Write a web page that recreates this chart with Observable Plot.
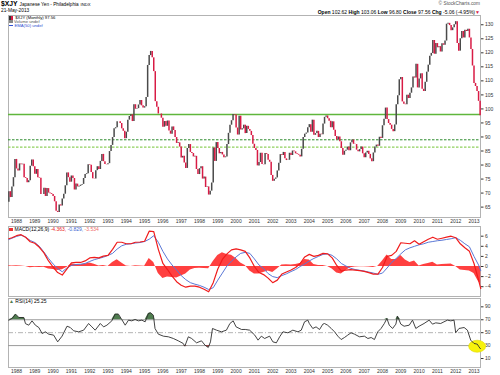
<!DOCTYPE html>
<html><head><meta charset="utf-8">
<script src="https://cdn.jsdelivr.net/npm/d3@7"></script>
<script src="https://cdn.jsdelivr.net/npm/@observablehq/plot@0.6"></script>
<style>
body{margin:0;background:#fff;}
#c{position:relative;width:500px;height:375px;overflow:hidden;font-family:"Liberation Sans",Arial,sans-serif;font-size:5px;}
#c svg{position:absolute;left:0;top:0;}
.t{position:absolute;white-space:nowrap;color:#000;line-height:1;font-size:5px;}
.ic{display:inline-block;vertical-align:middle;margin-right:1.5px;}
</style></head><body><div id="c"></div>
<script>
// ---------- DATA ----------
const priceStart = [1987, 8];           // first monthly candle: Aug 1987
const firstOpen = 66.7;
const closes = [
  70.5, 68.4, 72.2, 75.5, 82.0,
  78.6, 77.9, 80.4, 80.1, 80.3, 75.5, 75.2, 73.7, 74.4, 79.6, 81.8, 79.4,
  76.7, 78.4, 75.5, 75.3, 69.5, 69.5, 71.7, 68.8, 71.6, 70.0, 69.8, 69.5,
  68.8, 66.9, 63.5, 63.1, 65.8, 65.4, 67.9, 69.6, 72.6, 77.2, 75.5, 73.9,
  76.1, 75.2, 71.1, 73.2, 72.2, 72.4, 72.8, 73.1, 75.2, 76.6, 76.9, 80.1,
  79.9, 77.3, 75.1, 75.0, 78.0, 79.4, 78.4, 81.3, 83.8, 81.2, 80.2, 80.1,
  80.5, 84.8, 87.0, 89.8, 92.9, 93.3, 95.4, 95.4, 94.8, 92.9, 92.0, 89.4,
  91.7, 96.0, 97.3, 97.9, 95.5, 101.5, 99.9, 100.1, 101.4, 103.0, 101.1, 100.3,
  100.8, 104.1, 115.5, 119.0, 120.5, 118.2, 113.3, 102.6, 100.6, 98.2, 98.2, 96.7,
  93.5, 95.5, 93.8, 95.7, 92.1, 91.0, 93.6, 92.3, 89.8, 87.7, 87.9, 86.4,
  82.5, 83.1, 80.7, 78.8, 85.9, 87.3, 84.5, 84.1, 82.9, 83.1, 78.4, 76.6,
  78.7, 79.4, 75.0, 75.7, 72.0, 72.2, 69.3, 70.7, 73.6, 86.1, 81.3, 88.0,
  85.9, 84.0, 84.5, 83.6, 82.6, 82.9, 87.3, 91.3, 94.2, 95.8, 98.0, 97.8,
  93.2, 90.7, 97.4, 92.5, 92.9, 94.2, 91.2, 93.8, 92.7, 92.0, 90.5, 87.4,
  85.9, 85.2, 79.7, 80.9, 84.2, 80.2, 80.1, 84.1, 83.8, 81.7, 81.0, 76.3,
  74.2, 74.9, 75.4, 77.9, 80.6, 83.7, 83.4, 84.5, 82.2, 81.6, 81.7, 84.2,
  83.4, 85.0, 84.7, 84.0, 83.8, 83.5, 82.9, 85.6, 89.8, 91.0, 91.4, 93.3,
  94.4, 91.7, 96.0, 90.6, 91.2, 92.0, 89.8, 91.0, 90.8, 94.6, 97.0, 97.5,
  96.5, 95.6, 93.3, 95.4, 92.4, 90.2, 88.9, 90.0, 88.3, 85.9, 83.5, 84.9,
  85.3, 86.4, 85.1, 87.9, 88.9, 87.4, 87.3, 85.3, 84.7, 85.5, 86.4, 84.0,
  82.6, 84.3, 84.9, 83.8, 82.2, 81.2, 84.3, 86.4, 87.1, 86.7, 89.9, 89.5,
  94.0, 96.3, 100.3, 96.2, 94.8, 94.2, 92.7, 91.9, 94.3, 101.5, 104.7, 110.4,
  111.2, 102.5, 101.7, 101.5, 104.9, 103.7, 105.6, 107.5, 111.4, 111.0, 115.9, 107.5,
  110.7, 112.5, 107.0, 106.2, 109.5, 113.1, 115.6, 118.8, 119.8, 124.4, 119.5, 123.3,
  121.8, 122.2, 120.3, 123.2, 122.7, 124.2, 130.2, 130.5, 129.7, 127.9, 128.9, 130.0,
  131.1, 123.3, 120.6, 125.0, 127.6, 125.3, 128.0, 127.6, 128.4, 125.3, 121.2, 115.3,
  109.1, 108.0, 106.2, 102.7, 97.56
];
const supportLevels = [98.0, 89.0, 86.4];
const priceTicks = [65, 70, 75, 80, 85, 90, 95, 100, 105, 110, 115, 120, 125, 130];
const yearTicks = [1988,1989,1990,1991,1992,1993,1994,1995,1996,1997,1998,1999,2000,
  2001,2002,2003,2004,2005,2006,2007,2008,2009,2010,2011,2012,2013];

// MACD(12,26,9), read quarterly
const macdT = [1987.58, 1987.75, ...d3.range(1988, 2013.26, 0.25), 2013.37];
const macdLine = [
  5.5, 5.7,
  6.1, 6.3, 5.8, 4.9,   4.6, 3.8, 2.7, 1.1,   -0.1, -1.2, -1.7, -0.5,   0.7, 0.8, 0.8, 1.1,
  1.7, 1.8, 1.7, 2.05,  2.2, 3.4, 4.8, 4.8,   4.5, 4.5, 4.8, 4.85,    5.0, 7.0, 6.9, 3.4,
  0.6, -0.6, -1.9, -3.0, -3.7, -4.1, -3.9, -3.9, -4.1, -4.5, -5.0, -3.2, -0.5, 1.4, 2.5, 3.3,
  3.5, 3.3, 3.0, 1.7,   0.0, -1.2, -1.6, -2.3, -3.2, -2.7, -1.5, -1.1, -0.7, -0.2, 0.6, 1.9,
  2.4, 2.0, 2.2, 2.6,   2.5, 1.7, 0.2, -0.9,  -0.7, -0.6, -0.7, -0.8, -0.95, -1.2, -1.5, -1.5,
  -0.2, 2.0, 2.2, 3.0,  4.7, 4.6, 4.5, 5.1,   4.4, 4.9, 5.4, 5.8,     5.4, 5.6, 5.8, 6.0,
  5.7, 4.5, 3.7, 3.0,
  0.6, -2.7, -4.363
];
const macdSignal = [
  5.35, 5.6,
  5.95, 6.2, 5.8, 5.15, 4.75, 4.0, 2.85, 1.6,  0.5, -0.4, -1.05, -0.3,  0.2, 0.4, 0.45, 0.6,
  1.0, 1.35, 1.6, 1.85, 2.2, 2.6, 3.45, 4.1,   4.4, 4.5, 4.65, 4.75,    4.95, 5.4, 6.1, 4.8,
  3.0, 1.5, 0.3, -0.7,  -1.8, -2.6, -3.2, -3.5, -3.75, -4.1, -4.55, -4.2, -2.7, -1.3, 0.1, 1.06,
  1.9, 2.6, 2.8, 2.6,   1.5, 0.3, -0.4, -1.4,  -2.0, -2.2, -1.8, -1.45, -1.0, -0.6, 0.0, 0.5,
  1.1, 1.6, 2.0, 2.4,   2.5, 2.2, 1.5, 0.6,    0.1, -0.35, -0.6, -0.75, -0.9, -1.1, -1.3, -1.55,
  -1.3, -0.3, 0.8, 1.6, 2.5, 3.3, 3.7, 4.0,    4.3, 4.5, 4.8, 4.95,     5.1, 5.2, 5.35, 5.5,
  5.7, 5.2, 4.5, 3.9,
  2.0, 0.3, -0.829
];
const macdTicks = [-4, -2, 0, 2, 4, 6];

// RSI(14)
const rsiT = [1987.58,1987.76,1987.95,1988.13,1988.4,1988.49,1988.67,1988.85,1989.03,1989.22,1989.4,1989.58,1989.76,
  1990.03,1990.25,1990.49,1990.76,1990.94,1991.12,1991.4,1991.67,1991.94,1992.12,1992.3,1992.58,1992.76,1992.94,
  1993.21,1993.39,1993.57,1993.75,1993.94,1994.12,1994.3,1994.48,1994.66,1994.85,1995.03,1995.21,1995.33,1995.48,
  1995.57,1995.75,1996.03,1996.3,1996.57,1996.84,1997.11,1997.2,1997.39,1997.57,1997.84,1998.11,1998.3,1998.48,
  1998.6,1998.71,1998.93,1999.2,1999.47,1999.66,1999.84,2000.0,2000.3,2000.5,2000.74,2001.02,2001.2,2001.38,
  2001.56,2001.83,2002.01,2002.2,2002.38,2002.56,2002.83,2003.1,2003.38,2003.56,2003.74,2003.92,2004.0,2004.19,
  2004.37,2004.56,2004.74,2004.83,2005.0,2005.2,2005.38,2005.56,2005.74,2005.92,2006.1,2006.28,2006.47,2006.74,
  2007.01,2007.2,2007.38,2007.56,2007.74,2007.92,2008.1,2008.24,2008.37,2008.55,2008.73,2008.82,2009.0,2009.18,
  2009.46,2009.64,2009.82,2010.0,2010.27,2010.55,2010.73,2010.91,2011.18,2011.36,2011.55,2011.73,2011.91,2012.0,
  2012.18,2012.46,2012.64,2012.82,2013.0,2013.18,2013.27,2013.35];
const rsiV = [69.4,72,78.7,73.5,73.5,64,61.6,68.3,61.6,58,48.7,51.3,47.7,
  46.2,35.8,44.6,60,58,52.9,51.3,53.9,64.2,59,53.9,64.2,59,61.6,
  68.3,78.7,78.7,70.4,61.6,69.4,68.3,70.4,68.3,69.4,66.8,79.7,80.7,77.1,
  56.5,47.7,44.6,43.6,41,37.4,33.3,29.1,43.6,41,34.3,37.4,30.7,27.1,
  35.8,56.5,53.9,51.3,53.9,64.2,68.3,59,54.9,55,53.9,46.2,38.4,44.6,
  41,44.6,35.8,34.3,43.6,51.3,49.8,53.9,51.3,53.9,66.8,69.4,64.2,56.5,
  59,54.9,63.2,64.2,61.6,56.5,51.3,44.6,39.4,42.5,46.2,49.8,47.7,43.6,
  44.6,41,42.5,39.4,51.3,56.5,64.2,72,61.6,56.5,63.2,75.6,63.2,60,
  61.6,69.4,56.5,60,64.2,69.4,63.2,65.2,64.2,66.8,69.4,68.3,69.4,49.8,
  56.5,58,53.9,38.4,33.3,32.2,28.1,25.25];
const rsiLevels = [70, 50, 30];
const rsiTicks = [10, 30, 50, 70, 90];

// ---------- BUILD ----------
const candles = closes.map((c, i) => ({
  t: priceStart[0] + (priceStart[1] - 1 + i) / 12,
  open: i ? closes[i - 1] : firstOpen,
  close: c
}));
const macdData = macdT.map((t, i) => ({t, m: macdLine[i], s: macdSignal[i], h: macdLine[i] - macdSignal[i]}));
const rsiData = rsiT.map((t, i) => ({t, v: rsiV[i]}));

const FONT = "Liberation Sans, Arial, sans-serif";
const xDomain = [1987.563, 2013.355];
const base = {
  width: 500, height: 375, marginLeft: 8, marginRight: 20,
  style: {fontFamily: FONT, fontSize: "5px", background: "transparent", color: "#333", overflow: "visible"}
};
const frameColor = "#b3b3b3";

const mainPlot = Plot.plot({
  ...base, marginTop: 15, marginBottom: 158,
  x: {domain: xDomain, axis: "bottom", ticks: yearTicks, tickFormat: d => String(d), tickSize: 0, tickPadding: 2, label: null},
  y: {domain: [61.3, 133.3], axis: "right", ticks: priceTicks, tickSize: 2.5, tickPadding: 2, label: null},
  marks: [
    Plot.frame({stroke: frameColor}),
    Plot.ruleY([supportLevels[0]], {stroke: "#5fb63c", strokeWidth: 1.6}),
    Plot.ruleY([supportLevels[1]], {stroke: "#2b8a2b", strokeWidth: 1, strokeDasharray: "2.5,1.5"}),
    Plot.ruleY([supportLevels[2]], {stroke: "#8fd05c", strokeWidth: 1.4, strokeDasharray: "2.5,1.5"}),
    Plot.ruleX(candles.filter(d => d.close >= d.open), {x: "t", y1: "open", y2: "close", stroke: "#4a4a4a", strokeWidth: 1.5}),
    Plot.ruleX(candles.filter(d => d.close < d.open), {x: "t", y1: "open", y2: "close", stroke: "#d81b45", strokeWidth: 1.5})
  ]
});

const macdPlot = Plot.plot({
  ...base, marginTop: 226, marginBottom: 79,
  x: {domain: xDomain, axis: null},
  y: {domain: [-5.94, 7.92], axis: "right", ticks: macdTicks, tickSize: 2.5, tickPadding: 2, label: null},
  marks: [
    Plot.frame({stroke: frameColor}),
    Plot.areaY(macdData, {x: "t", y: "h", fill: "#ff2b2b", fillOpacity: 0.9}),
    Plot.line(macdData, {x: "t", y: "s", stroke: "#5b78d6", strokeWidth: 1}),
    Plot.line(macdData, {x: "t", y: "m", stroke: "#f01c1c", strokeWidth: 1.2})
  ]
});

const rsiPlot = Plot.plot({
  ...base, marginTop: 298, marginBottom: 8,
  x: {domain: xDomain, axis: "bottom", ticks: yearTicks, tickFormat: d => String(d), tickSize: 0, tickPadding: 2, label: null},
  y: {domain: [-3.9, 102.9], axis: "right", ticks: rsiTicks, tickSize: 2.5, tickPadding: 2, label: null},
  marks: [
    Plot.frame({stroke: frameColor}),
    Plot.ruleY([rsiLevels[0], rsiLevels[2]], {stroke: "#9a9a9a", strokeWidth: 1}),
    Plot.ruleY([rsiLevels[1]], {stroke: "#a0a0a0", strokeWidth: 0.8, strokeDasharray: "5,2,1,2"}),
    Plot.areaY(rsiData, {x: "t", y1: d => rsiLevels[0], y2: d => Math.max(d.v, rsiLevels[0]), fill: "#4f7d4f"}),
    Plot.areaY(rsiData, {x: "t", y1: d => rsiLevels[2], y2: d => Math.min(d.v, rsiLevels[2]), fill: "#a04848"}),
    Plot.line(rsiData, {x: "t", y: "v", stroke: "#2e2e2e", strokeWidth: 0.9})
  ]
});

const c = document.getElementById("c");
c.append(mainPlot, macdPlot, rsiPlot);

// yellow highlight ellipse at the last RSI reading, placed through the plot's scales
{
  const sx = rsiPlot.scale("x"), sy = rsiPlot.scale("y");
  const last = rsiData[rsiData.length - 1];
  d3.select(rsiPlot).insert("ellipse", "g[aria-label='line']")
    .attr("cx", sx.apply(last.t - 0.15)).attr("cy", sy.apply(last.v + 3))
    .attr("rx", 8.5).attr("ry", 6)
    .attr("fill", "#f7f20c").attr("stroke", "#e0d800").attr("stroke-width", 0.6);
}

// ---------- TEXT ----------
function txt(html, css) {
  const d = document.createElement("div");
  d.className = "t"; d.innerHTML = html;
  Object.assign(d.style, css);
  c.appendChild(d);
}
txt('<b style="font-size:6.8px">$XJY</b> <span style="font-size:4.7px">Japanese Yen - Philadelphia</span> <span style="font-size:4.2px">INDX</span>', {left: "1px", top: "1px", fontSize: "6.8px"});
txt('21-May-2013', {left: "1px", top: "8.8px", fontSize: "4.8px"});
txt('© StockCharts.com', {right: "20px", top: "1.5px", fontSize: "4.8px", color: "#555"});
txt('<b>Open</b> 102.62 <b>High</b> 103.06 <b>Low</b> 96.80 <b>Close</b> 97.56 <b>Chg</b> -5.06 (-4.95%)<span style="color:#d81b45">&#9660;</span>',
  {right: "20px", top: "9.6px", fontSize: "5px"});

txt('<span class="ic" style="width:1.5px;height:4px;background:#333;margin-right:0.5px"></span><span class="ic" style="width:1.5px;height:4px;background:#d81b45"></span> $XJY (Monthly) 97.56',
  {left: "9px", top: "16.3px", fontSize: "4.2px"});
txt('<span class="ic" style="width:3.5px;height:3px;background:#888"></span>Volume undef',
  {left: "9px", top: "20.1px", fontSize: "4.2px", color: "#555"});
txt('<span class="ic" style="width:4px;height:1px;background:#2f4fd0"></span>EMA(50) undef',
  {left: "9px", top: "24px", fontSize: "4.2px", color: "#2f4fd0"});

txt('<span class="ic" style="width:4px;height:2.5px;background:#f03030"></span>MACD(12,26,9) <span style="color:#e81818">-4.363,</span> <span style="color:#3b5fd0">-0.829,</span> <span style="color:#f06a6a">-3.534</span>',
  {left: "9px", top: "227px", fontSize: "5px"});
txt('<span style="color:#4f7d4f">&#9650;</span> RSI(14) 25.25', {left: "9px", top: "298.5px", fontSize: "5px"});
</script></body></html>
